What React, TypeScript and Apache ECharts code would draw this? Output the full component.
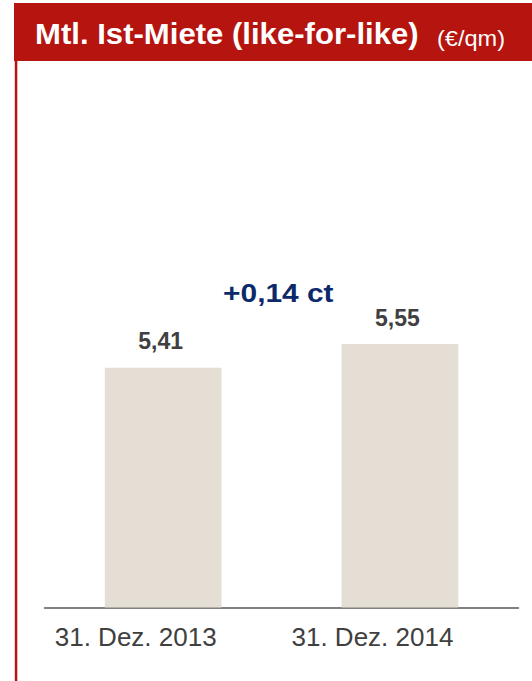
import React, { useEffect, useRef } from "react";
import * as echarts from "echarts";

const categories = ["31. Dez. 2013", "31. Dez. 2014"];
const values = [5.41, 5.55];
const valueLabels = ["5,41", "5,55"];
const titleMain = "Mtl. Ist-Miete (like-for-like)";
const titleUnit = "(€/qm)";
const deltaText = "+0,14 ct";

const FONT = "'Liberation Sans', Arial, Helvetica, sans-serif";
const RED = "#b5140f";

export default function App() {
  const ref = useRef<HTMLDivElement>(null);
  useEffect(() => {
    if (!ref.current) return;
    const chart = echarts.init(ref.current, null, { renderer: "svg" });
    chart.setOption({
      animation: false,
      backgroundColor: "#ffffff",
      grid: { left: 44.8, right: 13.7, top: 182.5, bottom: 73.5, containLabel: false },
      xAxis: {
        type: "category",
        data: categories,
        axisLine: { show: true, lineStyle: { color: "#808080", width: 2 } },
        axisTick: { show: false },
        axisLabel: {
          color: "#404040",
          fontSize: 26,
          fontFamily: FONT,
          margin: 16,
          padding: [0, 55, 0, 0],
        },
      },
      yAxis: {
        type: "value",
        min: 4,
        max: 6.5,
        show: false,
        splitLine: { show: false },
      },
      series: [
        {
          type: "bar",
          data: values,
          barWidth: 116.7,
          itemStyle: { color: "#e4ded5" },
          label: {
            show: true,
            position: "top",
            distance: 15,
            color: "#404040",
            fontWeight: "bold",
            fontSize: 23,
            fontFamily: FONT,
            padding: [0, 5, 0, 0],
            formatter: (p: any) => valueLabels[p.dataIndex],
          },
        },
      ],
      graphic: [
        { type: "rect", shape: { x: 14, y: 3, width: 518, height: 58 }, style: { fill: RED } },
        { type: "rect", shape: { x: 14.8, y: 60, width: 2.5, height: 621 }, style: { fill: RED } },
        {
          type: "text",
          x: 35,
          y: 33.7,
          scaleX: 1.073,
          style: {
            text: titleMain,
            fill: "#ffffff",
            font: `bold 29px ${FONT}`,
            verticalAlign: "middle",
          },
        },
        {
          type: "text",
          x: 437,
          y: 38,
          scaleX: 1.07,
          style: {
            text: titleUnit,
            fill: "#ffffff",
            font: `22px ${FONT}`,
            verticalAlign: "middle",
          },
        },
        {
          type: "text",
          x: 278.3,
          y: 293.4,
          scaleX: 1.15,
          style: {
            text: deltaText,
            fill: "#0c2a6a",
            font: `bold 26px ${FONT}`,
            align: "center",
            verticalAlign: "middle",
          },
        },
      ],
    });
    return () => chart.dispose();
  }, []);
  return (
    <div
      ref={ref}
      style={{ position: "fixed", left: 0, top: 0, width: 532, height: 681 }}
    />
  );
}
